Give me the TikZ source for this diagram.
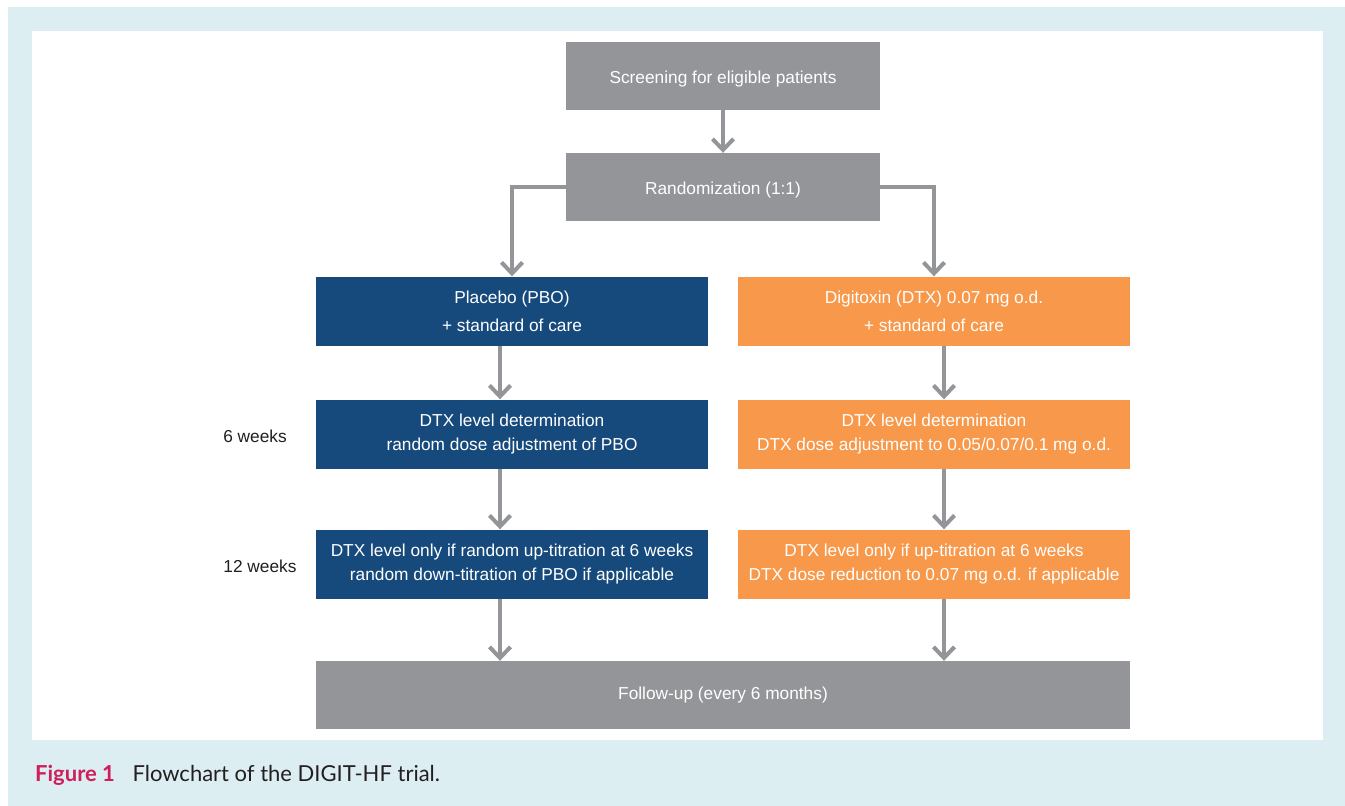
\documentclass[tikz,border=0pt]{standalone}
\usepackage{fontspec}
\setmainfont{Liberation Sans}
\newfontfamily\capfont{Lato}
\usetikzlibrary{arrows.meta}
\definecolor{boxgray}{HTML}{939598}
\definecolor{pboblue}{HTML}{174A7C}
\definecolor{dtxorange}{HTML}{F7984A}
\definecolor{panelblue}{HTML}{DDEEF3}
\definecolor{figred}{HTML}{CF1E5A}
\definecolor{captext}{HTML}{231F20}

\begin{document}
\begin{tikzpicture}[x=1pt,y=-1pt,
  every node/.style={font=\fontsize{17.3}{24}\selectfont, text=white, align=center},
  stagebox/.style={minimum width=314pt, minimum height=68pt, inner sep=0pt, fill=boxgray, execute at begin node={\rule{0pt}{19pt}}},
  armbox/.style={minimum width=392pt, minimum height=69pt, inner sep=0pt, execute at begin node={\vspace*{5pt}}},
  flowarrow/.style={draw=boxgray, line width=4pt, -{Straight Barb[length=11pt,width=21pt,line width=4pt]}},
  weeklabel/.style={text=captext}]
\useasboundingbox (0,0) rectangle (1345,806);
\fill[white] (0,0) rectangle (1345,806);
\fill[panelblue] (8,7) rectangle (1345,806); %%Frame
\fill[white] (32,31) rectangle (1323,740); %%Panel

%%Top
\node[stagebox] (screen) at (723,76) {Screening for eligible patients};
\node[stagebox] (random) at (723,187) {Randomization (1:1)};

%%Placebo arm
\node[armbox, fill=pboblue, font=\fontsize{17.3}{28}\selectfont] (pbo) at (512,311) {Placebo (PBO)\\+ standard of care};
\node[armbox, fill=pboblue] (pbosix) at (512,434) {DTX level determination\\random dose adjustment of PBO};
\node[armbox, fill=pboblue] (pbotwelve) at (512,564) {DTX level only if random up-titration at 6 weeks\\random down-titration of PBO if applicable};

%%Digitoxin arm
\node[armbox, fill=dtxorange, font=\fontsize{17.3}{28}\selectfont] (dtx) at (934,311) {Digitoxin (DTX) 0.07 mg o.d.\\+ standard of care};
\node[armbox, fill=dtxorange] (dtxsix) at (934,434) {DTX level determination\\DTX dose adjustment to 0.05/0.07/0.1 mg o.d.};
\node[armbox, fill=dtxorange] (dtxtwelve) at (934,564) {DTX level only if up-titration at 6 weeks\\DTX dose reduction to 0.07 mg o.d. if applicable};

%%Bottom
\node[minimum width=814pt, minimum height=68pt, inner sep=0pt, fill=boxgray] (follow) at (723,695) {Follow-up (every 6 months)};

\node[weeklabel] (six) at (255,436) {6 weeks};
\node[weeklabel] (twelve) at (260,566) {12 weeks};

%%Arrows
\draw[flowarrow] (screen.south) -- (random.north);
\draw[flowarrow] (random.west) -| (pbo.north);
\draw[flowarrow] (random.east) -| (dtx.north);
\draw[flowarrow] (pbo.south -| 500,0) -- (pbosix.north -| 500,0);
\draw[flowarrow] (pbosix.south -| 500,0) -- (pbotwelve.north -| 500,0);
\draw[flowarrow] (pbotwelve.south -| 500,0) -- (follow.north -| 500,0);
\draw[flowarrow] (dtx.south -| 944,0) -- (dtxsix.north -| 944,0);
\draw[flowarrow] (dtxsix.south -| 944,0) -- (dtxtwelve.north -| 944,0);
\draw[flowarrow] (dtxtwelve.south -| 944,0) -- (follow.north -| 944,0);

%%Caption
\node[anchor=base west, inner sep=0pt, font=\capfont\fontsize{22}{26}\selectfont, text=captext] (caption) at (35,781)
  {\textcolor{figred}{\bfseries Figure 1}\hspace{0.8em}Flowchart of the DIGIT-HF trial.};
\end{tikzpicture}
\end{document}
